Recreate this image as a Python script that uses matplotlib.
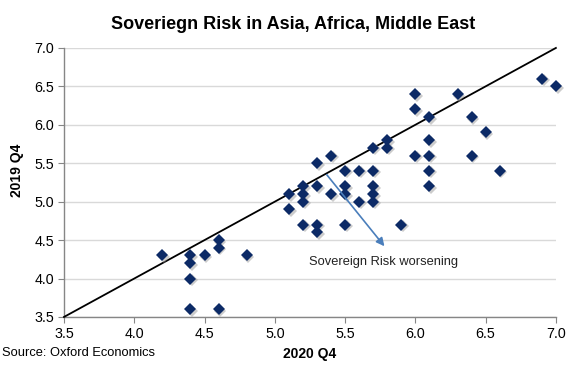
import matplotlib
matplotlib.use("Agg")
import matplotlib.pyplot as plt

plt.rcParams['font.family'] = ['Liberation Sans', 'DejaVu Sans']

# Data: (2020 Q4, 2019 Q4)
x_2020 = [4.2, 4.4, 4.4, 4.4, 4.4, 4.5, 4.6, 4.6, 4.6, 4.8,
          5.1, 5.1, 5.2, 5.2, 5.2, 5.2, 5.3, 5.3, 5.3, 5.3,
          5.4, 5.4, 5.5, 5.5, 5.5, 5.5, 5.6, 5.6,
          5.7, 5.7, 5.7, 5.7, 5.7, 5.8, 5.8, 5.9,
          6.0, 6.0, 6.0, 6.1, 6.1, 6.1, 6.1, 6.1,
          6.3, 6.4, 6.4, 6.5, 6.6, 6.9, 7.0]
y_2019 = [4.3, 4.3, 4.2, 4.0, 3.6, 4.3, 4.5, 4.4, 3.6, 4.3,
          5.1, 4.9, 5.2, 5.1, 5.0, 4.7, 5.5, 5.2, 4.7, 4.6,
          5.6, 5.1, 5.4, 5.2, 5.1, 4.7, 5.4, 5.0,
          5.7, 5.4, 5.2, 5.1, 5.0, 5.8, 5.7, 4.7,
          6.4, 6.2, 5.6, 6.1, 5.8, 5.6, 5.4, 5.2,
          6.4, 6.1, 5.6, 5.9, 5.4, 6.6, 6.5]
line_vals = [3.5, 7.0]
ticks = [3.5, 4.0, 4.5, 5.0, 5.5, 6.0, 6.5, 7.0]
tick_labels = ["3.5", "4.0", "4.5", "5.0", "5.5", "6.0", "6.5", "7.0"]

fig = plt.figure(figsize=(5.87, 3.66), dpi=100)
ax = fig.add_axes([0.109, 0.134, 0.838, 0.735])

ax.set_xlim(3.5, 7.0)
ax.set_ylim(3.5, 7.0)
ax.set_xticks(ticks)
ax.set_xticklabels(tick_labels)
ax.set_yticks(ticks)
ax.set_yticklabels(tick_labels)

ax.yaxis.grid(True, color='#d9d9d9', linewidth=1.0)
ax.set_axisbelow(True)
for s in ['top', 'right']:
    ax.spines[s].set_visible(False)
for s in ['left', 'bottom']:
    ax.spines[s].set_color('#868686')
    ax.spines[s].set_linewidth(1.0)
ax.tick_params(axis='both', direction='out', length=4, color='#868686',
               labelsize=10.3, pad=3, labelcolor='#000000')

# 45-degree line
ax.plot(line_vals, line_vals, color='black', linewidth=1.3, zorder=3, clip_on=False)

# shadow + markers
ax.plot([v + 0.012 for v in x_2020], [v - 0.02 for v in y_2019], 'D', markersize=6.5,
        color='#9a9a9a', alpha=0.5, markeredgewidth=0, zorder=3.5, clip_on=False)
ax.plot(x_2020, y_2019, 'D', markersize=6.5, color='#0c2a66', markeredgewidth=0,
        zorder=4, clip_on=False)

# arrow
ax.annotate('', xy=(5.78, 4.42), xytext=(5.37, 5.35),
            arrowprops=dict(arrowstyle='-|>', color='#4a7ebb', lw=1.2,
                            mutation_scale=12, shrinkA=0, shrinkB=0), zorder=5)
ax.text(5.245, 4.22, 'Sovereign Risk worsening', fontsize=9.3, color='#222222',
        va='center', ha='left')

fig.text(0.5, 0.932, 'Soveriegn Risk in Asia, Africa, Middle East', ha='center',
         va='center', fontsize=13, fontweight='bold')
fig.text(310 / 587, 1 - 354 / 366, '2020 Q4', fontsize=10, fontweight='bold',
         ha='center', va='center')
fig.text(17 / 587, 1 - 170 / 366, '2019 Q4', fontsize=10, fontweight='bold',
         ha='center', va='center', rotation=90)
fig.text(0.004, 1 - 352.5 / 366, 'Source: Oxford Economics', fontsize=9.3,
         ha='left', va='center')

fig.savefig('out.png', dpi=100)
